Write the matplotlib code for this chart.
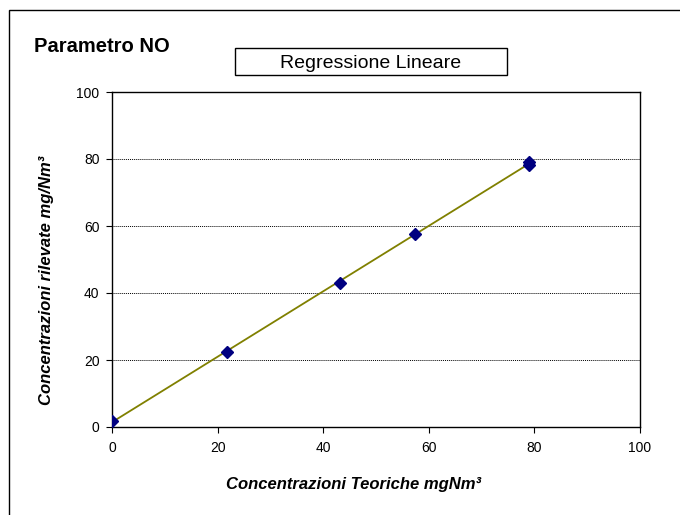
import matplotlib
matplotlib.use("Agg")
import matplotlib.pyplot as plt
from matplotlib.patches import Rectangle
import numpy as np

plt.rcParams['font.family'] = ['Liberation Sans', 'DejaVu Sans']

# data
teoriche = [0.0, 21.7, 43.2, 57.3, 79.0, 79.0]
rilevate = [1.8, 22.5, 43.0, 57.5, 79.2, 78.3]
ticks = [0, 20, 40, 60, 80, 100]

fig = plt.figure(figsize=(6.8, 5.15), dpi=100)

# outer chart frame (only top/left visible in the original)
fig.patches.append(Rectangle((8.5 / 680, -0.05), 1.2, 1 - 10 / 515 + 0.05,
                             transform=fig.transFigure, fill=False,
                             edgecolor='black', linewidth=1.0))

ax = fig.add_axes([112 / 680, 1 - 427 / 515, 528 / 680, 335 / 515])

# regression line
slope, intercept = np.polyfit(teoriche, rilevate, 1)
xl = np.array([min(teoriche), max(teoriche)])
ax.plot(xl, slope * xl + intercept, color='#808000', linewidth=1.3, zorder=2)
ax.plot(teoriche, rilevate, linestyle='none', marker='D', markersize=6,
        color='#000080', zorder=3)

ax.set_xlim(0, 100)
ax.set_ylim(0, 100)
ax.set_xticks(ticks)
ax.set_yticks(ticks)
ax.tick_params(labelsize=10, length=4, width=0.8, direction='out')
ax.tick_params(axis='x', pad=6)
ax.tick_params(axis='y', pad=5)
ax.grid(axis='y', color='black', linestyle=(0, (1, 1)), linewidth=0.7)
ax.set_axisbelow(True)
for s in ax.spines.values():
    s.set_linewidth(1.0)

fig.text(34 / 680, 1 - 47 / 515, 'Parametro NO', fontsize=14.5,
         fontweight='bold', va='center', ha='left')
fig.patches.append(Rectangle((235 / 680, 1 - 75 / 515), 272 / 680, 27 / 515,
                             transform=fig.transFigure, fill=False,
                             edgecolor='black', linewidth=1.0))
fig.text(371 / 680, 1 - 63 / 515, 'Regressione Lineare', fontsize=14,
         va='center', ha='center')
fig.text(354 / 680, 1 - 484 / 515, 'Concentrazioni Teoriche mgNm³',
         fontsize=12, fontweight='bold', fontstyle='italic',
         ha='center', va='center')
fig.text(47 / 680, 1 - 280 / 515, 'Concentrazioni rilevate mg/Nm³',
         fontsize=12, fontweight='bold', fontstyle='italic',
         ha='center', va='center', rotation=90)

fig.savefig('out.png', dpi=100)
